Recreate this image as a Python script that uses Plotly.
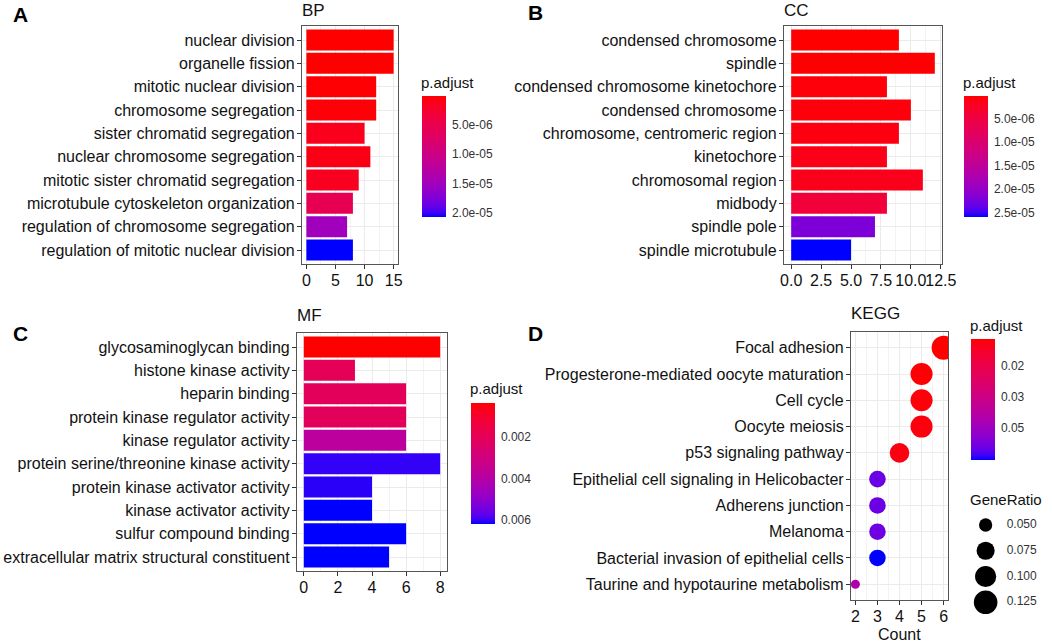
import numpy as np
import plotly.graph_objects as go

# ---------------- data ----------------
bp_terms = ["nuclear division", "organelle fission", "mitotic nuclear division",
            "chromosome segregation", "sister chromatid segregation",
            "nuclear chromosome segregation", "mitotic sister chromatid segregation",
            "microtubule cytoskeleton organization", "regulation of chromosome segregation",
            "regulation of mitotic nuclear division"]
bp_count = [15, 15, 12, 12, 10, 11, 9, 8, 7, 8]
bp_padj = [1.5e-7, 1.6e-7, 3.0e-7, 4.0e-7, 1.3e-6, 9.0e-7, 1.6e-6, 5.5e-6, 1.5e-5, 2.07e-5]

cc_terms = ["condensed chromosome", "spindle", "condensed chromosome kinetochore",
            "condensed chromosome", "chromosome, centromeric region", "kinetochore",
            "chromosomal region", "midbody", "spindle pole", "spindle microtubule"]
cc_count = [9, 12, 8, 10, 9, 8, 11, 8, 7, 5]
cc_padj = [2e-7, 3e-7, 6e-7, 7e-7, 9e-7, 1.3e-6, 1.6e-6, 4.2e-6, 2.2e-5, 2.6e-5]

mf_terms = ["glycosaminoglycan binding", "histone kinase activity", "heparin binding",
            "protein kinase regulator activity", "kinase regulator activity",
            "protein serine/threonine kinase activity", "protein kinase activator activity",
            "kinase activator activity", "sulfur compound binding",
            "extracellular matrix structural constituent"]
mf_count = [8, 3, 6, 6, 6, 8, 4, 4, 6, 5]
mf_padj = [0.00034, 0.0020, 0.0021, 0.0021, 0.0038, 0.00602, 0.00605, 0.0062, 0.0062, 0.0062]

kegg_terms = ["Focal adhesion", "Progesterone-mediated oocyte maturation", "Cell cycle",
              "Oocyte meiosis", "p53 signaling pathway",
              "Epithelial cell signaling in Helicobacter", "Adherens junction", "Melanoma",
              "Bacterial invasion of epithelial cells", "Taurine and hypotaurine metabolism"]
kegg_count = [6, 5, 5, 5, 4, 3, 3, 3, 3, 2]
kegg_ratio = [0.130, 0.109, 0.109, 0.109, 0.087, 0.065, 0.065, 0.065, 0.065, 0.043]
kegg_padj = [0.0071, 0.0075, 0.0080, 0.0085, 0.0090, 0.0590, 0.0590, 0.0585, 0.0653, 0.0449]

bp_ticks = [5e-6, 1e-5, 1.5e-5, 2e-5]
bp_ticktext = ["5.0e-06", "1.0e-05", "1.5e-05", "2.0e-05"]
cc_ticks = [5e-6, 1e-5, 1.5e-5, 2e-5, 2.5e-5]
cc_ticktext = ["5.0e-06", "1.0e-05", "1.5e-05", "2.0e-05", "2.5e-05"]
mf_ticks = [0.002, 0.004, 0.006]
mf_ticktext = ["0.002", "0.004", "0.006"]
kegg_ticks = [0.02, 0.035, 0.05]
kegg_ticktext = ["0.02", "0.03", "0.05"]
ratio_legend = [0.050, 0.075, 0.100, 0.125]
ratio_legend_text = ["0.050", "0.075", "0.100", "0.125"]

# ---------------- helpers ----------------
W, H = 1052, 642
FONT = "Liberation Sans, Arial, sans-serif"


def px(x):
    return x / W


def py(y):
    return 1 - y / H


M = np.array([[0.4124564, 0.3575761, 0.1804375],
              [0.2126729, 0.7151522, 0.0721750],
              [0.0193339, 0.1191920, 0.9503041]])
WP = np.array([0.95047, 1.0, 1.08883])


def to_lab(rgb):
    c = np.array(rgb, dtype=float) / 255.0
    c = np.where(c <= 0.04045, c / 12.92, ((c + 0.055) / 1.055) ** 2.4)
    t = (M @ c) / WP
    d = 6 / 29
    f = np.where(t > d ** 3, np.cbrt(t), t / (3 * d * d) + 4 / 29)
    return np.array([116 * f[1] - 16, 500 * (f[0] - f[1]), 200 * (f[1] - f[2])])


def from_lab(lab):
    L, a, b = lab
    fy = (L + 16) / 116
    f = np.array([fy + a / 500, fy, fy - b / 200])
    d = 6 / 29
    t = np.where(f > d, f ** 3, 3 * d * d * (f - 4 / 29))
    c = np.linalg.inv(M) @ (t * WP)
    c = np.clip(c, 0, 1)
    c = np.where(c <= 0.0031308, 12.92 * c, 1.055 * c ** (1 / 2.4) - 0.055)
    c = np.clip(np.round(c * 255), 0, 255).astype(int)
    return "rgb(%d,%d,%d)" % tuple(c)


LAB_BLUE = to_lab((0, 0, 255))
LAB_RED = to_lab((255, 0, 0))
# negated values are plotted -> low end blue, high end red (red at top like the reference)
CSCALE = [[s, from_lab(LAB_BLUE + (LAB_RED - LAB_BLUE) * s)] for s in np.linspace(0, 1, 25)]


def colorbar(x, ytop, ticks, ticktext):
    return dict(x=px(x), xanchor="left", y=py(ytop), yanchor="top",
                lenmode="pixels", len=121, thicknessmode="pixels", thickness=24,
                xpad=0, ypad=0, outlinewidth=0,
                tickmode="array", tickvals=[-v for v in ticks], ticktext=ticktext,
                ticks="outside", ticklen=4, tickcolor="white", tickwidth=1,
                tickfont=dict(size=12, color="#333333", family=FONT))


def xaxis_cfg(x0, x1, rng, dtick, minor, fmt=None):
    d = dict(domain=[px(x0), px(x1)], range=rng, tick0=0, dtick=dtick, tickangle=0,
             showgrid=True, gridcolor="#ebebeb", gridwidth=1, zeroline=False,
             minor=dict(tick0=0, dtick=minor, showgrid=True, gridcolor="#f3f3f3", gridwidth=1),
             showline=True, mirror=True, linecolor="#555555", linewidth=1.2,
             ticks="outside", ticklen=4, tickcolor="#333333", tickwidth=1,
             ticklabelstandoff=-2,
             tickfont=dict(size=16, color="#111111", family=FONT))
    if fmt:
        d["tickformat"] = fmt
    return d


def yaxis_cfg(y0, y1, terms, anchor):
    return dict(domain=[py(y1), py(y0)], range=[9.6, -0.6],
                tickmode="array", tickvals=list(range(len(terms))), ticktext=terms,
                showgrid=True, gridcolor="#ebebeb", gridwidth=1, zeroline=False,
                showline=True, mirror=True, linecolor="#555555", linewidth=1.2,
                ticks="outside", ticklen=4, tickcolor="#333333", tickwidth=1,
                ticklabelstandoff=-1,
                tickfont=dict(size=16, color="#111111", family=FONT), anchor=anchor)


def dot_size(r):
    rmin, rmax = min(kegg_ratio), max(kegg_ratio)
    dmin, dmax = 9.0, 24.0
    v = np.clip((np.array(r) - rmin) / (rmax - rmin), 0, 1)
    return (dmin + (dmax - dmin) * np.sqrt(v)).tolist()


fig = go.Figure()

rows = list(range(10))
fig.add_trace(go.Bar(x=bp_count, y=rows, orientation="h", width=0.9,
                     marker=dict(color=[-v for v in bp_padj], colorscale=CSCALE, line=dict(width=0),
                                 showscale=True, colorbar=colorbar(422, 96, bp_ticks, bp_ticktext)),
                     xaxis="x", yaxis="y", hoverinfo="skip"))
fig.add_trace(go.Bar(x=cc_count, y=rows, orientation="h", width=0.9,
                     marker=dict(color=[-v for v in cc_padj], colorscale=CSCALE, line=dict(width=0),
                                 showscale=True, colorbar=colorbar(964, 96, cc_ticks, cc_ticktext)),
                     xaxis="x2", yaxis="y2", hoverinfo="skip"))
fig.add_trace(go.Bar(x=mf_count, y=rows, orientation="h", width=0.9,
                     marker=dict(color=[-v for v in mf_padj], colorscale=CSCALE, line=dict(width=0),
                                 showscale=True, colorbar=colorbar(471, 403, mf_ticks, mf_ticktext)),
                     xaxis="x3", yaxis="y3", hoverinfo="skip"))
fig.add_trace(go.Scatter(x=kegg_count, y=rows, mode="markers",
                         marker=dict(size=dot_size(kegg_ratio), sizemode="diameter",
                                     color=[-v for v in kegg_padj], colorscale=CSCALE,
                                     line=dict(width=0), opacity=1,
                                     showscale=True, colorbar=colorbar(971, 339, kegg_ticks, kegg_ticktext)),
                         xaxis="x4", yaxis="y4", hoverinfo="skip"))
# GeneRatio size legend
fig.add_trace(go.Scatter(x=[0.21] * len(ratio_legend), y=ratio_legend, mode="markers",
                         marker=dict(size=dot_size(ratio_legend), color="#000000", opacity=1,
                                     line=dict(width=0)),
                         xaxis="x5", yaxis="y5", hoverinfo="skip", cliponaxis=False))
fig.add_trace(go.Scatter(x=[0.46] * len(ratio_legend), y=ratio_legend, mode="text",
                         text=ratio_legend_text, textposition="middle right",
                         textfont=dict(size=12, color="#333333", family=FONT),
                         xaxis="x5", yaxis="y5", hoverinfo="skip", cliponaxis=False))

layout = dict(
    width=W, height=H, margin=dict(l=0, r=0, t=0, b=0, autoexpand=False),
    paper_bgcolor="white", plot_bgcolor="white", showlegend=False,
    font=dict(family=FONT, color="#111111"),
    xaxis=xaxis_cfg(302, 398, [-0.75, 15.75], 5, 2.5),
    yaxis=yaxis_cfg(26, 264, bp_terms, "x"),
    xaxis2=xaxis_cfg(784, 942, [-0.6, 12.6], 2.5, 1.25, ".1f"),
    yaxis2=yaxis_cfg(26, 264, cc_terms, "x2"),
    xaxis3=xaxis_cfg(297, 447, [-0.4, 8.4], 2, 1),
    yaxis3=yaxis_cfg(333, 571, mf_terms, "x3"),
    xaxis4=xaxis_cfg(851, 948, [1.8, 6.2], 1, 0.5),
    yaxis4=yaxis_cfg(332, 600, kegg_terms, "x4"),
    xaxis5=dict(domain=[px(968), px(1052)], range=[0, 1], visible=False, fixedrange=True),
    yaxis5=dict(domain=[py(614), py(513)], range=[0.13635, 0.03836], visible=False,
                anchor="x5", fixedrange=True),
)
layout["xaxis"]["anchor"] = "y"
layout["xaxis2"]["anchor"] = "y2"
layout["xaxis3"]["anchor"] = "y3"
layout["xaxis4"]["anchor"] = "y4"
layout["xaxis5"]["anchor"] = "y5"
fig.update_layout(**layout)

annots = [
    ("A", 11, 14, 21, True), ("B", 526, 13, 21, True),
    ("C", 11, 334, 21, True), ("D", 526, 334, 21, True),
    ("BP", 300, 10, 17, False), ("CC", 782, 10, 17, False),
    ("MF", 295, 315, 17, False), ("KEGG", 849, 314, 17, False),
    ("p.adjust", 419, 82, 15, False), ("p.adjust", 961, 82, 15, False),
    ("p.adjust", 468, 388, 15, False), ("p.adjust", 968, 325, 15, False),
    ("GeneRatio", 968, 499, 15, False),
]
for text, x, y, size, bold in annots:
    fig.add_annotation(text=("<b>%s</b>" % text) if bold else text, x=px(x), y=py(y),
                       xref="paper", yref="paper", xanchor="left", yanchor="middle",
                       showarrow=False, font=dict(size=size, color="black" if bold else "#111111",
                                                  family=FONT))
fig.add_annotation(text="Count", x=px(899), y=py(634), xref="paper", yref="paper",
                   xanchor="center", yanchor="middle", showarrow=False,
                   font=dict(size=16, color="#111111", family=FONT))

# the default page body has an 8px margin; remove it so the figure fills the window exactly
fig.write_html("out.html", config={"displayModeBar": False},
               post_script="document.body.style.margin='0';document.body.style.overflow='hidden';")
